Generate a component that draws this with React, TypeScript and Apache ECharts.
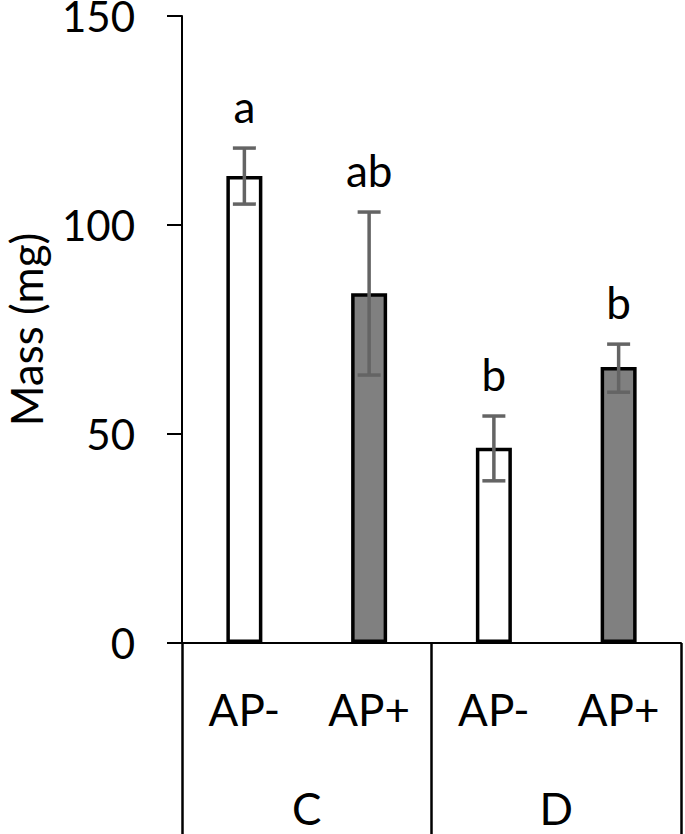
import React, { useEffect, useRef } from "react";
import * as echarts from "echarts";

const categories = ["AP-", "AP+", "AP-", "AP+"];
const groups = ["C", "D"];
const means = [111.7, 83.7, 46.7, 66.0];
const errLow = [105.0, 64.1, 38.8, 60.0];
const errHigh = [118.4, 103.1, 54.3, 71.5];
const letters = ["a", "ab", "b", "b"];
const yTicks = { min: 0, max: 150, interval: 50 };

const FILLS = ["#ffffff", "#808080"];
const FONT = "Lato";
const FS = 44;

export default function App() {
  const ref = useRef<HTMLDivElement>(null);
  useEffect(() => {
    const chart = echarts.init(ref.current!, null, { renderer: "svg" });
    chart.setOption({
      animation: false,
      grid: { left: 182, right: 4, top: 16, bottom: 191, containLabel: false, outerBoundsMode: "none" },
      xAxis: [
        {
          type: "category",
          data: categories,
          position: "bottom",
          axisLine: { show: true, lineStyle: { color: "#000", width: 2 } },
          axisTick: { show: false },
          axisLabel: { color: "#000", fontSize: FS, fontFamily: FONT, margin: 44, interval: 0 },
        },
        {
          type: "category",
          data: groups,
          position: "bottom",
          axisLine: { show: false },
          axisTick: { show: true, length: 200, lineStyle: { color: "#000", width: 2.5 } },
          axisLabel: { color: "#000", fontSize: FS, fontFamily: FONT, margin: 143, interval: 0 },
        },
      ],
      yAxis: {
        type: "value",
        min: yTicks.min,
        max: yTicks.max,
        interval: yTicks.interval,
        name: "Mass (mg)",
        nameLocation: "middle",
        nameRotate: 90,
        nameGap: 134,
        nameTextStyle: { color: "#000", fontSize: FS, fontFamily: FONT, lineHeight: 44 },
        axisLine: { show: true, lineStyle: { color: "#000", width: 2 } },
        axisTick: { show: true, length: 15, inside: false, lineStyle: { color: "#000", width: 2 } },
        splitLine: { show: false },
        axisLabel: { color: "#000", fontSize: 42, fontFamily: FONT, margin: 47, lineHeight: 30 },
      },
      series: [
        {
          type: "bar",
          xAxisIndex: 0,
          barWidth: 36,
          data: means.map((v, i) => ({
            value: v,
            itemStyle: { color: FILLS[i % 2], borderColor: "#000", borderWidth: 3.5 },
          })),
          z: 2,
        },
        {
          type: "custom",
          xAxisIndex: 0,
          z: 5,
          data: means.map((_, i) => [i, errLow[i], errHigh[i]]),
          renderItem: (params: any, api: any) => {
            const i = api.value(0);
            const lo = api.coord([i, api.value(1)]);
            const hi = api.coord([i, api.value(2)]);
            const x = hi[0];
            const half = 11.5;
            const st = { stroke: "#646464", lineWidth: 3.5 };
            return {
              type: "group",
              children: [
                { type: "line", shape: { x1: x, y1: lo[1], x2: x, y2: hi[1] }, style: st },
                { type: "line", shape: { x1: x - half, y1: hi[1], x2: x + half, y2: hi[1] }, style: st },
                { type: "line", shape: { x1: x - half, y1: lo[1], x2: x + half, y2: lo[1] }, style: st },
                {
                  type: "text",
                  x: x,
                  y: hi[1] - 20,
                  style: {
                    text: letters[i],
                    fill: "#000",
                    font: `${FS}px ${FONT}`,
                    align: "center",
                    verticalAlign: "bottom",
                  },
                },
              ],
            };
          },
        },
      ],
    });
    return () => chart.dispose();
  }, []);
  return <div ref={ref} style={{ width: 685, height: 834, position: "absolute", left: 0, top: 0 }} />;
}
